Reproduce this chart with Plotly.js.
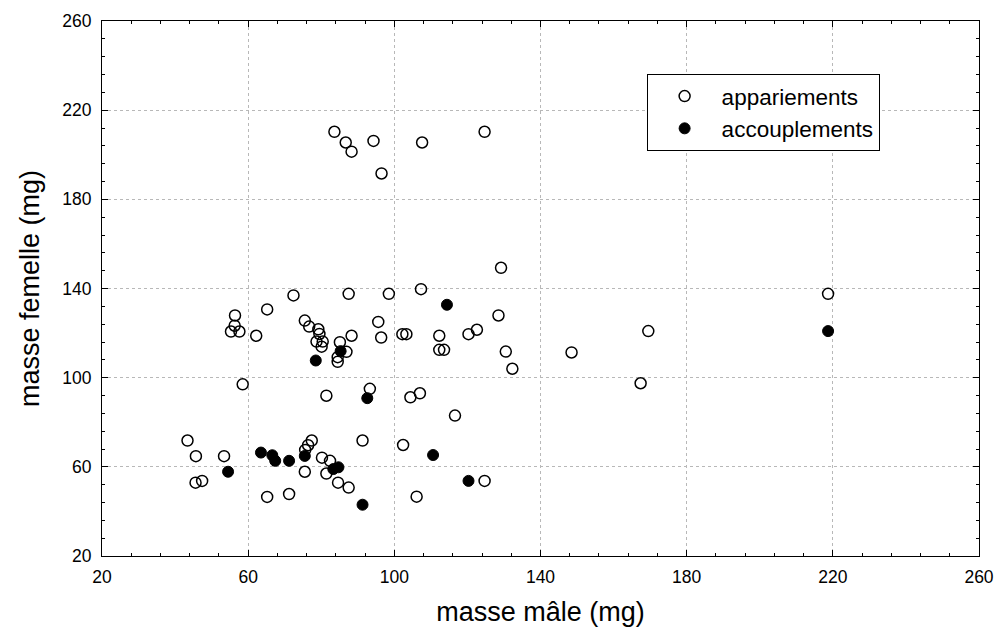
<!DOCTYPE html>
<html>
<head>
<meta charset="utf-8">
<script src="https://cdn.plot.ly/plotly-3.0.1.min.js"></script>
<style>html,body{margin:0;padding:0;background:#fff}#chart{width:1000px;height:635px}</style>
</head>
<body>
<div id="chart"></div>
<script>
// appariements (open circles)
const appX = [72.4, 87.5, 98.5, 107.3, 56.4, 65.2, 56.3, 55.3, 57.6, 62.2,
  75.5, 76.7, 79.2, 79.5, 78.7, 80.4, 80.1, 88.3, 85.1, 86.9,
  84.5, 84.5, 95.6, 96.4, 102.2, 103.3, 58.5, 81.4, 93.3, 104.4,
  107.0, 43.4, 45.7, 53.4, 45.6, 47.4, 75.6, 76.4, 77.4, 75.5,
  80.2, 82.4, 81.4, 84.6, 87.5, 65.2, 71.2, 91.3, 102.4, 106.1,
  128.5, 112.3, 112.3, 113.6, 120.3, 122.6, 130.5, 132.3, 148.5, 116.6,
  124.7, 83.6, 86.7, 88.3, 94.3, 96.5, 107.6, 124.7, 218.7, 169.5,
  167.4, 129.2];
const appY = [136.9, 137.6, 137.6, 139.7, 127.9, 130.6, 123.3, 120.7, 120.7, 118.8,
  125.6, 122.9, 121.7, 119.6, 116.2, 116.2, 113.9, 118.8, 115.9, 111.6,
  109.2, 107.1, 125.0, 118.0, 119.5, 119.5, 97.0, 91.9, 95.0, 91.2,
  93.0, 71.8, 64.8, 64.8, 52.9, 53.7, 67.6, 69.7, 71.8, 57.8,
  64.1, 62.7, 57.0, 52.9, 50.7, 46.5, 47.8, 71.8, 69.8, 46.6,
  127.9, 118.8, 112.5, 112.5, 119.5, 121.5, 111.7, 104.0, 111.3, 83.0,
  53.7, 210.3, 205.5, 201.4, 206.2, 191.6, 205.5, 210.3, 137.6, 120.9,
  97.5, 149.3];
// accouplements (filled circles)
const accX = [85.3, 78.5, 92.6, 54.5, 63.5, 66.6, 67.4, 71.2, 75.5, 84.7,
  83.3, 91.3, 114.4, 110.6, 120.3, 218.7];
const accY = [111.9, 107.7, 90.8, 57.8, 66.4, 65.2, 62.7, 62.7, 64.9, 59.8,
  59.0, 43.0, 132.7, 65.3, 53.7, 120.9];
const tickVals = [20, 60, 100, 140, 180, 220, 260];
const tickText = ['20', '60', '100', '140', '180', '220', '260'];

const font = 'Liberation Sans, Arial, sans-serif';

const traces = [
  {
    x: appX, y: appY, name: 'appariements', type: 'scatter', mode: 'markers',
    marker: {symbol: 'circle-open', size: 11, color: '#000', line: {width: 1.5, color: '#000'}}
  },
  {
    x: accX, y: accY, name: 'accouplements', type: 'scatter', mode: 'markers',
    marker: {symbol: 'circle', size: 11, color: '#000', line: {width: 1, color: '#000'}}
  }
];

const axisCommon = {
  range: [20, 260],
  tickmode: 'array', tickvals: tickVals, ticktext: tickText,
  ticks: 'inside', ticklen: 6, tickwidth: 1, tickcolor: '#000',
  minor: {dtick: 8, tick0: 20, ticks: 'inside', ticklen: 3, tickwidth: 1, tickcolor: '#000', showgrid: false},
  showline: true, linecolor: '#000', linewidth: 1, mirror: 'ticks',
  showgrid: true, gridcolor: '#b8b8b8', griddash: 'dot', gridwidth: 1,
  zeroline: false,
  tickfont: {family: font, size: 17.5, color: '#000'},
  automargin: false
};

const layout = {
  width: 1000, height: 635,
  margin: {l: 102, r: 21, t: 21, b: 79},
  paper_bgcolor: '#fff', plot_bgcolor: '#fff',
  font: {family: font, color: '#000'},
  showlegend: true,
  xaxis: Object.assign({}, axisCommon, {
    title: {text: 'masse mâle (mg)', font: {family: font, size: 27, color: '#000'}, standoff: 16},
    ticklabelstandoff: 5
  }),
  yaxis: Object.assign({}, axisCommon, {
    title: {text: 'masse femelle (mg)', font: {family: font, size: 27, color: '#000'}, standoff: 14},
    ticklabelstandoff: 6
  }),
  legend: {
    x: 0.621, y: 0.901, xanchor: 'left', yanchor: 'top',
    bgcolor: '#fff', bordercolor: '#000', borderwidth: 1,
    font: {family: font, size: 22.5, color: '#000'},
    itemwidth: 64, tracegroupgap: 0, entrywidth: 258
  }
};

Plotly.newPlot('chart', traces, layout, {displayModeBar: false, staticPlot: true});
</script>
</body>
</html>
